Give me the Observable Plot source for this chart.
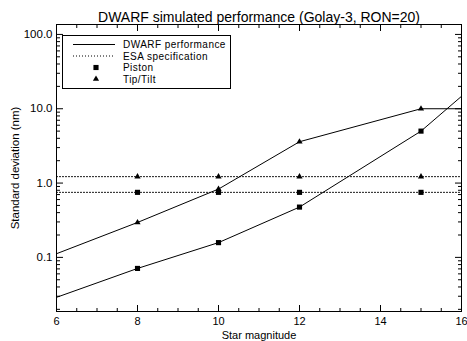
<!DOCTYPE html>
<html><head><meta charset="utf-8">
<script src="https://cdn.jsdelivr.net/npm/d3@7"></script>
<script src="https://cdn.jsdelivr.net/npm/@observablehq/plot@0.6"></script>
<style>body{margin:0;background:#fff;} svg{font-family:"Liberation Sans",Arial,sans-serif;}</style>
</head><body><div id="chart"></div>
<script>
const title = "DWARF simulated performance (Golay-3, RON=20)";
const xLabel = "Star magnitude";
const yLabel = "Standard deviation (nm)";
const magnitudes = [6, 8, 10, 12, 15, 16];
const pistonDwarf = [0.029, 0.071, 0.158, 0.475, 5.0, 14.7];
const tiptiltDwarf = [0.112, 0.295, 0.83, 3.6, 10.0, 10.0];
const markerMags = [8, 10, 12, 15];
const pistonMarkers = [0.071, 0.158, 0.475, 5.0];
const tiptiltMarkers = [0.295, 0.83, 3.6, 10.0];
const esaPiston = 0.75;
const esaTiptilt = 1.22;
const xMajor = [6, 8, 10, 12, 14, 16];
const xMinor = d3.range(6, 16.01, 0.5).filter(v => v % 2 !== 0);
const yMajor = [0.1, 1, 10, 100];
const yMinor = [0.01, 0.1, 1, 10].flatMap(d => [2,3,4,5,6,7,8,9].map(k => +(k*d).toPrecision(3))).filter(v => v >= 0.019 && v <= 135);
const legendLabels = ["DWARF performance", "ESA specification", "Piston", "Tip/Tilt"];

const pistonRows = magnitudes.map((m, i) => ({x: m, y: pistonDwarf[i]}));
const ttRows = magnitudes.map((m, i) => ({x: m, y: tiptiltDwarf[i]}));
const pMark = markerMags.map((m, i) => ({x: m, y: pistonMarkers[i]}));
const tMark = markerMags.map((m, i) => ({x: m, y: tiptiltMarkers[i]}));
const esaP = [{x: 6, y: esaPiston}, {x: 16, y: esaPiston}];
const esaT = [{x: 6, y: esaTiptilt}, {x: 16, y: esaTiptilt}];
const esaPM = markerMags.map(m => ({x: m, y: esaPiston}));
const esaTM = markerMags.map(m => ({x: m, y: esaTiptilt}));
const blank = () => "";

const plot = Plot.plot({
  width: 467, height: 341,
  marginLeft: 56, marginRight: 6, marginTop: 24, marginBottom: 30,
  style: {fontSize: "11px", fontFamily: "Liberation Sans, Arial, sans-serif", color: "black", background: "white"},
  x: {domain: [6, 16]},
  y: {type: "log", domain: [0.0187, 136]},
  marks: [
    Plot.frame({stroke: "black"}),
    Plot.axisX(xMajor, {anchor: "bottom", tickSize: -6, tickPadding: 12, tickFormat: d => String(d), label: xLabel, labelAnchor: "center", labelOffset: 27, labelArrow: "none"}),
    Plot.axisX(xMinor, {anchor: "bottom", tickSize: -3, tickFormat: blank, label: null}),
    Plot.axisX(xMajor, {anchor: "top", tickSize: -6, tickFormat: blank, label: null}),
    Plot.axisX(xMinor, {anchor: "top", tickSize: -3, tickFormat: blank, label: null}),
    Plot.axisY(yMajor, {anchor: "left", tickSize: -7, tickPadding: 11, tickFormat: d => d.toFixed(1), label: yLabel, labelAnchor: "center", labelOffset: 46, labelArrow: "none", fontSize: 11.5}),
    Plot.axisY(yMinor, {anchor: "left", tickSize: -4, tickFormat: blank, label: null}),
    Plot.axisY(yMajor, {anchor: "right", tickSize: -7, tickFormat: blank, label: null}),
    Plot.axisY(yMinor, {anchor: "right", tickSize: -4, tickFormat: blank, label: null}),
    Plot.line(esaP, {x: "x", y: "y", stroke: "black", strokeWidth: 1, strokeDasharray: "1,2"}),
    Plot.line(esaT, {x: "x", y: "y", stroke: "black", strokeWidth: 1, strokeDasharray: "1,2"}),
    Plot.line(pistonRows, {x: "x", y: "y", stroke: "black", strokeWidth: 1, clip: true}),
    Plot.line(ttRows, {x: "x", y: "y", stroke: "black", strokeWidth: 1, clip: true}),
    Plot.dot(pMark.concat(esaPM), {x: "x", y: "y", symbol: "square", r: 2.9, fill: "black", stroke: "none"}),
    Plot.dot(tMark.concat(esaTM), {x: "x", y: "y", symbol: "triangle", r: 2.3, fill: "black", stroke: "none"}),
    Plot.text([title], {frameAnchor: "top", dy: -12, fontSize: 14, fill: "black", letterSpacing: "0.4px"})
  ]
});
document.getElementById("chart").appendChild(plot);

// legend box inside plot
const svg = d3.select(plot);
const g = svg.append("g").attr("text-anchor", "start");
g.append("rect").attr("x", 62.5).attr("y", 35.5).attr("width", 168).attr("height", 53).attr("fill", "white").attr("stroke", "black");
const rows = [44.5, 56, 67.5, 79];
g.append("line").attr("x1", 73).attr("x2", 115).attr("y1", rows[0]).attr("y2", rows[0]).attr("stroke", "black");
g.append("line").attr("x1", 73).attr("x2", 115).attr("y1", rows[1]).attr("y2", rows[1]).attr("stroke", "black").attr("stroke-dasharray", "1,2");
g.append("path").attr("d", d3.symbol(d3.symbolSquare, Math.PI * 2.9 * 2.9)()).attr("transform", `translate(96,${rows[2]})`).attr("fill", "black");
g.append("path").attr("d", d3.symbol(d3.symbolTriangle, Math.PI * 2.3 * 2.3)()).attr("transform", `translate(96,${rows[3]})`).attr("fill", "black");
legendLabels.forEach((t, i) => {
  g.append("text").attr("x", 123).attr("y", rows[i]).attr("dy", "0.35em").attr("fill", "black").attr("font-size", 10).attr("letter-spacing", "0.45px").attr("text-anchor", "start").text(t);
});
</script>
</body></html>
